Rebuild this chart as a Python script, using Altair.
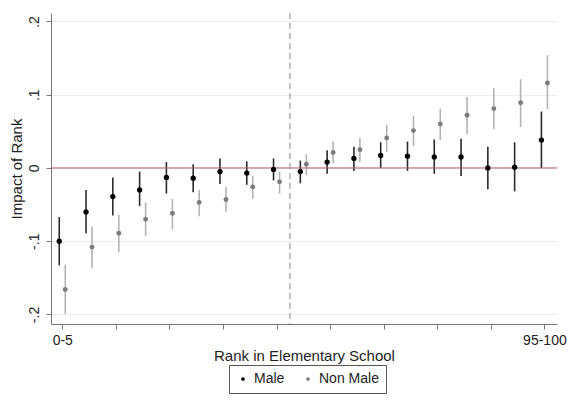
import altair as alt
import pandas as pd

# Bin positions (1..19) and end labels
bins = list(range(1, 20))
first_label = "0-5"
last_label = "95-100"

male_est = [-0.100, -0.060, -0.039, -0.030, -0.013, -0.014, -0.005, -0.007, -0.002,
            -0.005, 0.008, 0.013, 0.017, 0.016, 0.015, 0.015, 0.000, 0.001, 0.038]
male_lo = [-0.133, -0.089, -0.065, -0.052, -0.035, -0.033, -0.022, -0.023, -0.017,
           -0.021, -0.008, -0.004, 0.000, -0.004, -0.008, -0.011, -0.029, -0.032, 0.000]
male_hi = [-0.067, -0.030, -0.013, -0.005, 0.008, 0.005, 0.013, 0.009, 0.013,
           0.010, 0.024, 0.029, 0.035, 0.036, 0.039, 0.040, 0.029, 0.035, 0.077]

nm_est = [-0.166, -0.108, -0.089, -0.070, -0.062, -0.047, -0.043, -0.026, -0.019,
          0.005, 0.021, 0.025, 0.041, 0.051, 0.060, 0.072, 0.081, 0.089, 0.116]
nm_lo = [-0.199, -0.137, -0.115, -0.093, -0.084, -0.066, -0.060, -0.042, -0.035,
         -0.010, 0.006, 0.008, 0.022, 0.030, 0.038, 0.046, 0.053, 0.056, 0.080]
nm_hi = [-0.132, -0.080, -0.064, -0.047, -0.042, -0.030, -0.026, -0.011, -0.005,
         0.019, 0.036, 0.041, 0.059, 0.071, 0.081, 0.097, 0.109, 0.121, 0.154]

series = ["Male", "Non Male"]
y_ticks = [-0.2, -0.1, 0, 0.1, 0.2]
y_tick_labels = ["-.2", "-.1", "0", ".1", ".2"]
cutoff = [9.5]
zero_line = [0]

df = pd.concat([
    pd.DataFrame({"bin": bins, "est": male_est, "lo": male_lo, "hi": male_hi, "group": series[0]}),
    pd.DataFrame({"bin": bins, "est": nm_est, "lo": nm_lo, "hi": nm_hi, "group": series[1]}),
])

FONT = "Liberation Sans"

y_label_expr = " : ".join(
    f"abs(datum.value - ({v})) < 1e-9 ? '{s}'" for v, s in zip(y_ticks, y_tick_labels)
) + " : ''"

x_scale = alt.Scale(domain=[0.58, 19.47], nice=False, zero=False)
y_scale = alt.Scale(domain=[-0.213, 0.2115], nice=False, zero=False)

x_axis = alt.Axis(
    values=bins,
    labelExpr=f"datum.value == 1 ? '{first_label}' : (datum.value == 19 ? '{last_label}' : '')",
    title="Rank in Elementary School",
    grid=False, tickSize=5, tickColor="#777", domainColor="#777",
    labelFontSize=14, labelColor="#222", labelPadding=4, labelFont=FONT,
    titleFontSize=15, titleFont=FONT, titleColor="#222", titleFontWeight="normal",
    titlePadding=1, labelAngle=0,
)
y_axis = alt.Axis(
    values=y_ticks,
    labelExpr=y_label_expr,
    title="Impact of Rank",
    grid=True, gridColor="#ececec", gridWidth=1,
    tickSize=5, tickColor="#777", domainColor="#777",
    labelFontSize=14, labelColor="#222", labelPadding=5, labelFont=FONT,
    labelAngle=270, labelAlign="center", labelBaseline="bottom",
    titleFontSize=15, titleFont=FONT, titleColor="#222", titleFontWeight="normal",
    titlePadding=3,
)

base = alt.Chart(df)

male_bars = base.transform_filter(alt.datum.group == series[0]).mark_rule(
    xOffset=-3, color="#2a2a2a", strokeWidth=1.6
).encode(x=alt.X("bin:Q", scale=x_scale, axis=x_axis), y=alt.Y("lo:Q", scale=y_scale, axis=y_axis), y2="hi:Q")

nm_bars = base.transform_filter(alt.datum.group == series[1]).mark_rule(
    xOffset=3, color="#b4b4b4", strokeWidth=1.6
).encode(x=alt.X("bin:Q", scale=x_scale), y=alt.Y("lo:Q", scale=y_scale), y2="hi:Q")

color_enc = alt.Color(
    "group:N",
    scale=alt.Scale(domain=series, range=["#000000", "#7c7c7c"]),
    legend=alt.Legend(
        title=None, orient="none", legendX=178, legendY=352, direction="horizontal",
        strokeColor="#555", padding=7, symbolType="circle", symbolSize=14,
        labelFontSize=14, labelFont=FONT, labelColor="#222", columnPadding=16,
        symbolStrokeWidth=0, fillColor="white",
    ),
)

male_pts = base.transform_filter(alt.datum.group == series[0]).mark_circle(
    xOffset=-3, size=28, opacity=1
).encode(x=alt.X("bin:Q", scale=x_scale), y=alt.Y("est:Q", scale=y_scale), color=color_enc)

nm_pts = base.transform_filter(alt.datum.group == series[1]).mark_circle(
    xOffset=3, size=24, opacity=1
).encode(x=alt.X("bin:Q", scale=x_scale), y=alt.Y("est:Q", scale=y_scale), color=color_enc)

zero_rule = alt.Chart(pd.DataFrame({"y": zero_line})).mark_rule(
    color="#c05a6a", strokeWidth=1
).encode(y=alt.Y("y:Q", scale=y_scale))

cut_rule = alt.Chart(pd.DataFrame({"x": cutoff})).mark_rule(
    color="#9a9a9a", strokeWidth=1.2, strokeDash=[6, 4]
).encode(x=alt.X("x:Q", scale=x_scale))

chart = alt.layer(
    male_bars, nm_bars, zero_rule, cut_rule, male_pts, nm_pts
).properties(
    width=506, height=311,
    autosize=alt.AutoSizeParams(type="none"),
    padding={"left": 43, "top": 5, "right": 10, "bottom": 75},
    background="white",
).configure_view(stroke=None)

chart.save("out.html", embed_options={"renderer": "svg", "actions": False})
